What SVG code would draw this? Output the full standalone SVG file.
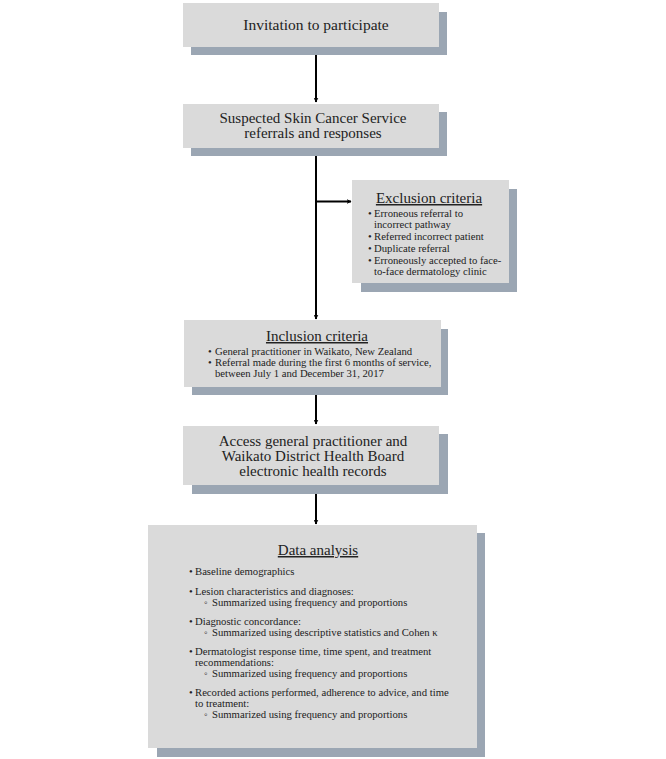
<svg xmlns="http://www.w3.org/2000/svg" width="666" height="759" viewBox="0 0 666 759">
<defs>
<style>
.box{fill:#dadada}
.sh{fill:#9ba6b3}
.t{font-family:"Liberation Serif","DejaVu Serif",serif;fill:#222}
.h{font-size:15px;text-anchor:middle}
.ti{font-size:15px;text-anchor:middle;text-decoration:underline}
.b{font-size:10.7px}
.ln{stroke:#000;stroke-width:2;fill:none}
</style>
<marker id="ah" viewBox="0 0 10 10" refX="9" refY="5" markerWidth="5" markerHeight="5" orient="auto" markerUnits="userSpaceOnUse">
<path d="M0,0 L10,5 L0,10 L3,5 Z" fill="#000"/>
</marker>
</defs>
<rect width="666" height="759" fill="#fff"/>

<g id="connectors">
<line class="ln" x1="316" y1="55" x2="316" y2="102" marker-end="url(#ah)"/>
<line class="ln" x1="316" y1="156" x2="316" y2="319" marker-end="url(#ah)"/>
<line class="ln" x1="316" y1="201.5" x2="351" y2="201.5" marker-end="url(#ah)"/>
<line class="ln" x1="316" y1="395" x2="316" y2="424" marker-end="url(#ah)"/>
<line class="ln" x1="316" y1="494" x2="316" y2="524" marker-end="url(#ah)"/>
</g>

<g id="invitation">
<rect class="sh" x="191" y="12" width="256" height="43"/>
<rect class="box" x="183" y="3" width="256" height="44"/>
<text class="t h" x="316" y="30" style="font-size:15.5px">Invitation to participate</text>
</g>

<g id="referrals">
<rect class="sh" x="191" y="112" width="256" height="44"/>
<rect class="box" x="183" y="104" width="256" height="44"/>
<text class="t h" x="313" y="123">Suspected Skin Cancer Service</text>
<text class="t h" x="313" y="138">referrals and responses</text>
</g>

<g id="exclusion">
<rect class="sh" x="361" y="189" width="156" height="103"/>
<rect class="box" x="352" y="180" width="157" height="103"/>
<text class="t ti" x="429" y="203">Exclusion criteria</text>
<g class="t b">
<text x="368" y="217">•</text><text x="374" y="217">Erroneous referral to</text>
<text x="374" y="228">incorrect pathway</text>
<text x="368" y="240">•</text><text x="374" y="240">Referred incorrect patient</text>
<text x="368" y="252">•</text><text x="374" y="252">Duplicate referral</text>
<text x="368" y="264">•</text><text x="374" y="264">Erroneously accepted to face-</text>
<text x="374" y="275">to-face dermatology clinic</text>
</g>
</g>

<g id="inclusion">
<rect class="sh" x="192" y="329" width="256" height="66"/>
<rect class="box" x="184" y="320" width="257" height="67"/>
<text class="t ti" x="317" y="341">Inclusion criteria</text>
<g class="t b">
<text x="208" y="355">•</text><text x="215" y="355">General practitioner in Waikato, New Zealand</text>
<text x="208" y="366">•</text><text x="215" y="366">Referral made during the first 6 months of service,</text>
<text x="215" y="377">between July 1 and December 31, 2017</text>
</g>
</g>

<g id="access">
<rect class="sh" x="192" y="434" width="256" height="60"/>
<rect class="box" x="183" y="426" width="256" height="59"/>
<text class="t h" x="313" y="446">Access general practitioner and</text>
<text class="t h" x="313" y="461">Waikato District Health Board</text>
<text class="t h" x="313" y="476">electronic health records</text>
</g>

<g id="analysis">
<rect class="sh" x="157" y="533" width="328" height="224"/>
<rect class="box" x="148" y="525" width="329" height="223"/>
<text class="t ti" x="318" y="555">Data analysis</text>
<g class="t b">
<text x="189" y="575">•</text><text x="195" y="575">Baseline demographics</text>
<text x="189" y="595">•</text><text x="195" y="595">Lesion characteristics and diagnoses:</text>
<text x="204" y="606">◦</text><text x="212" y="606">Summarized using frequency and proportions</text>
<text x="189" y="625">•</text><text x="195" y="625">Diagnostic concordance:</text>
<text x="204" y="636">◦</text><text x="212" y="636">Summarized using descriptive statistics and Cohen κ</text>
<text x="189" y="655">•</text><text x="195" y="655">Dermatologist response time, time spent, and treatment</text>
<text x="195" y="666">recommendations:</text>
<text x="204" y="677">◦</text><text x="212" y="677">Summarized using frequency and proportions</text>
<text x="189" y="696">•</text><text x="195" y="696">Recorded actions performed, adherence to advice, and time</text>
<text x="195" y="707">to treatment:</text>
<text x="204" y="718">◦</text><text x="212" y="718">Summarized using frequency and proportions</text>
</g>
</g>
</svg>
